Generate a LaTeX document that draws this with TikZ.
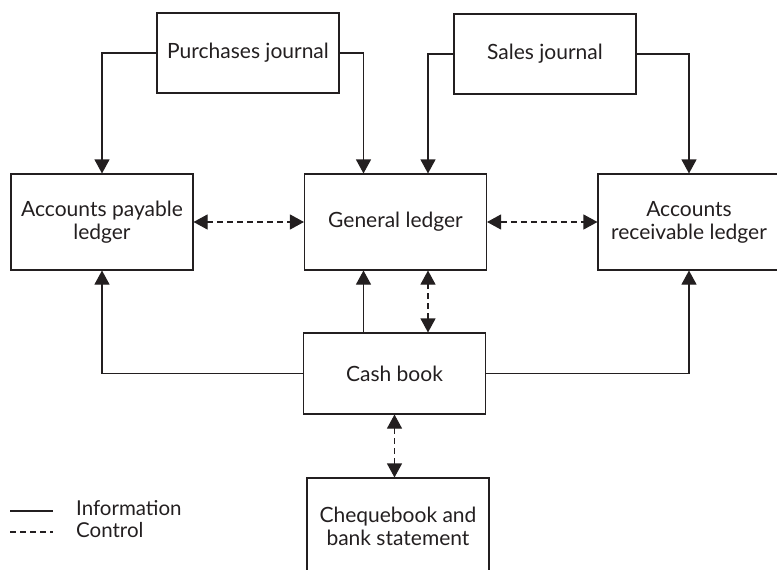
\documentclass[tikz,border=0pt]{standalone}
\usepackage{fontspec}
\setmainfont{Lato}
\usetikzlibrary{arrows.meta}
\definecolor{inkgrey}{HTML}{231F20}

\begin{document}
\begin{tikzpicture}[x=1pt,y=-1pt,
  book/.style={draw=inkgrey, line width=1.1pt, minimum width=182pt,
    minimum height=80pt, align=center, inner sep=0pt, text=inkgrey,
    font=\fontsize{21}{23}\selectfont},
  ledger/.style={book, minimum height=96pt},
  plain/.style={draw=inkgrey, line width=1.1pt},
  info/.style={plain, -{Triangle[length=14pt,width=15pt]}},
  ctrl/.style={plain, dash pattern=on 6pt off 4pt,
    {Triangle[length=14pt,width=15pt]}-{Triangle[length=14pt,width=15pt]}},
  legendtext/.style={anchor=west, inner sep=0pt, text=inkgrey,
    font=\fontsize{20.5}{23}\selectfont},
]
\clip (0,0) rectangle (777,570);
% journals
\node[book] (purch) at (248,53) {Purchases journal};
\node[book] (sales) at (545,54) {Sales journal};
% ledgers
\node[ledger] (payable) at (102,222) {Accounts payable\\ledger};
\node[ledger] (general) at (395.5,222) {General ledger};
\node[ledger] (receivable) at (689,222) {Accounts\\receivable ledger};
% cash and bank
\node[book, minimum height=81pt] (cash) at (394.5,373.5) {Cash book};
\node[ledger] (cheque) at (398,526) {Chequebook and\\bank statement};
%
\coordinate (gn1) at ([xshift=-32pt]general.north);
\coordinate (gn2) at ([xshift=32.5pt]general.north);
\coordinate (gs1) at ([xshift=-32pt]general.south);
\coordinate (gs2) at ([xshift=32.5pt]general.south);
%
\draw[info] (purch.west) -| (payable.north);
\draw[info] (purch.east) -| (gn1);
\draw[info] (sales.west) -| (gn2);
\draw[info] (sales.east) -| (receivable.north);
%
\draw[ctrl] (payable.east) -- (general.west);
\draw[ctrl] (general.east) -- (receivable.west);
%
\draw[info] (gs1 |- cash.north) -- (gs1);
\draw[ctrl] (gs2 |- cash.north) -- (gs2);
\draw[info] (cash.west) -| (payable.south);
\draw[info] (cash.east) -| (receivable.south);
\draw[ctrl] (cash.south) -- (cash.south |- cheque.north);
% legend
\coordinate (infoA) at (10,511);
\coordinate (infoB) at (53,511);
\coordinate (ctrlA) at (10,532);
\coordinate (ctrlB) at (53,532);
\draw[plain] (infoA) -- (infoB);
\draw[plain, dash pattern=on 6pt off 4pt] (ctrlA) -- (ctrlB);
\node[legendtext] (infotext) at (76,508) {Information};
\node[legendtext] (ctrltext) at (76,530) {Control};
\end{tikzpicture}
\end{document}
